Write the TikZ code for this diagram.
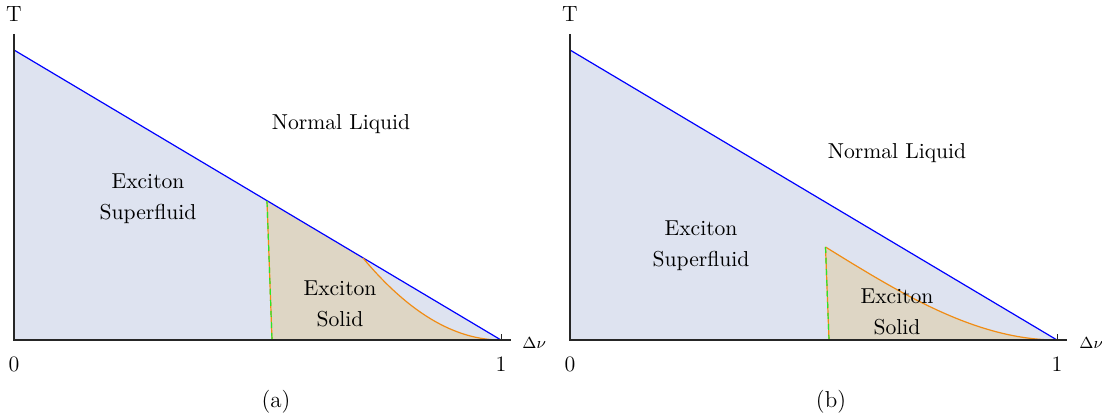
\documentclass[tikz,border=0pt]{standalone}
\usepackage{amsmath}
\usetikzlibrary{positioning}
\definecolor{fluidfill}{RGB}{222,227,240}
\definecolor{solidfill}{RGB}{222,214,197}
\definecolor{curveorange}{RGB}{240,140,20}
\definecolor{dashgreen}{RGB}{40,230,40}
\begin{document}
\begin{tikzpicture}[x=0.5pt,y=-0.5pt]
\tikzset{
  phaselabel/.style={align=center,font=\fontsize{10.8}{15.5}\selectfont,inner sep=0pt},
  ticklabel/.style={font=\fontsize{11}{12}\selectfont,inner sep=1pt},
  axislabel/.style={font=\fontsize{8.5}{10}\selectfont,inner sep=0pt},
  axisline/.style={black!85,line width=0.7pt},
  boundary/.style={blue,line width=0.6pt},
  solidcurve/.style={curveorange,line width=0.6pt},
  greendash/.style={dashgreen,line width=0.6pt,dash pattern=on 3pt off 2.5pt},
  subcaption/.style={font=\fontsize{11.5}{13}\selectfont}
}
\useasboundingbox (0,0) rectangle (1102,417);
% panel (a)
\coordinate (a_o) at (14,340);
\coordinate (a_ytop) at (14,34);
\coordinate (a_xend) at (511,340);
\coordinate (a_top) at (14,50);
\coordinate (a_one) at (501,340);
\coordinate (a_dt) at (267,201);
\coordinate (a_db) at (272,340);
\coordinate (a_ct) at (363,258);
\fill[fluidfill] (a_o) -- (a_top) -- (a_one) -- cycle;
\fill[solidfill] (a_db) -- (a_dt) -- (a_ct) .. controls (409,313) and (455,340) .. (a_one) -- cycle;
\draw[boundary] (a_top) -- (a_one);
\draw[solidcurve] (a_ct) .. controls (409,313) and (455,340) .. (a_one);
\draw[solidcurve] (a_dt) -- (a_db);
\draw[greendash] (a_dt) -- (a_db);
\draw[axisline] (a_ytop) -- (a_o) -- (a_xend);
\draw[axisline,line width=0.5pt] (a_one) -- ++(0,-6);
\node[ticklabel] (a_T) at (14,14) {T};
\node[ticklabel] (a_zero) at (14,364) {0};
\node[ticklabel] (a_onelbl) at (501,364) {1};
\node[axislabel,anchor=west] (a_dnu) at (522,343) {$\Delta\nu$};
\node[phaselabel] (a_normal) at (341,124) {Normal Liquid};
\node[phaselabel] (a_fluid) at (148,199) {Exciton\\Superfluid};
\node[phaselabel] (a_solid) at (340,304) {Exciton\\Solid};
\node[subcaption] (a_cap) at (276,402) {(a)};
% panel (b)
\coordinate (b_o) at (570,340);
\coordinate (b_ytop) at (570,34);
\coordinate (b_xend) at (1067,340);
\coordinate (b_top) at (570,50);
\coordinate (b_one) at (1057,340);
\coordinate (b_dt) at (825.5,247);
\coordinate (b_db) at (829,340);
\fill[fluidfill] (b_o) -- (b_top) -- (b_one) -- cycle;
\fill[solidfill] (b_db) -- (b_dt) .. controls (903,295) and (977,340) .. (b_one) -- cycle;
\draw[boundary] (b_top) -- (b_one);
\draw[solidcurve] (b_dt) .. controls (903,295) and (977,340) .. (b_one);
\draw[solidcurve] (b_dt) -- (b_db);
\draw[greendash] (b_dt) -- (b_db);
\draw[axisline] (b_ytop) -- (b_o) -- (b_xend);
\draw[axisline,line width=0.5pt] (b_one) -- ++(0,-6);
\node[ticklabel] (b_T) at (570,14) {T};
\node[ticklabel] (b_zero) at (570,364) {0};
\node[ticklabel] (b_onelbl) at (1057,364) {1};
\node[axislabel,anchor=west] (b_dnu) at (1079,343) {$\Delta\nu$};
\node[phaselabel] (b_normal) at (897,153) {Normal Liquid};
\node[phaselabel] (b_fluid) at (701,246) {Exciton\\Superfluid};
\node[phaselabel] (b_solid) at (897,312) {Exciton\\Solid};
\node[subcaption] (b_cap) at (831,402) {(b)};
\end{tikzpicture}
\end{document}
